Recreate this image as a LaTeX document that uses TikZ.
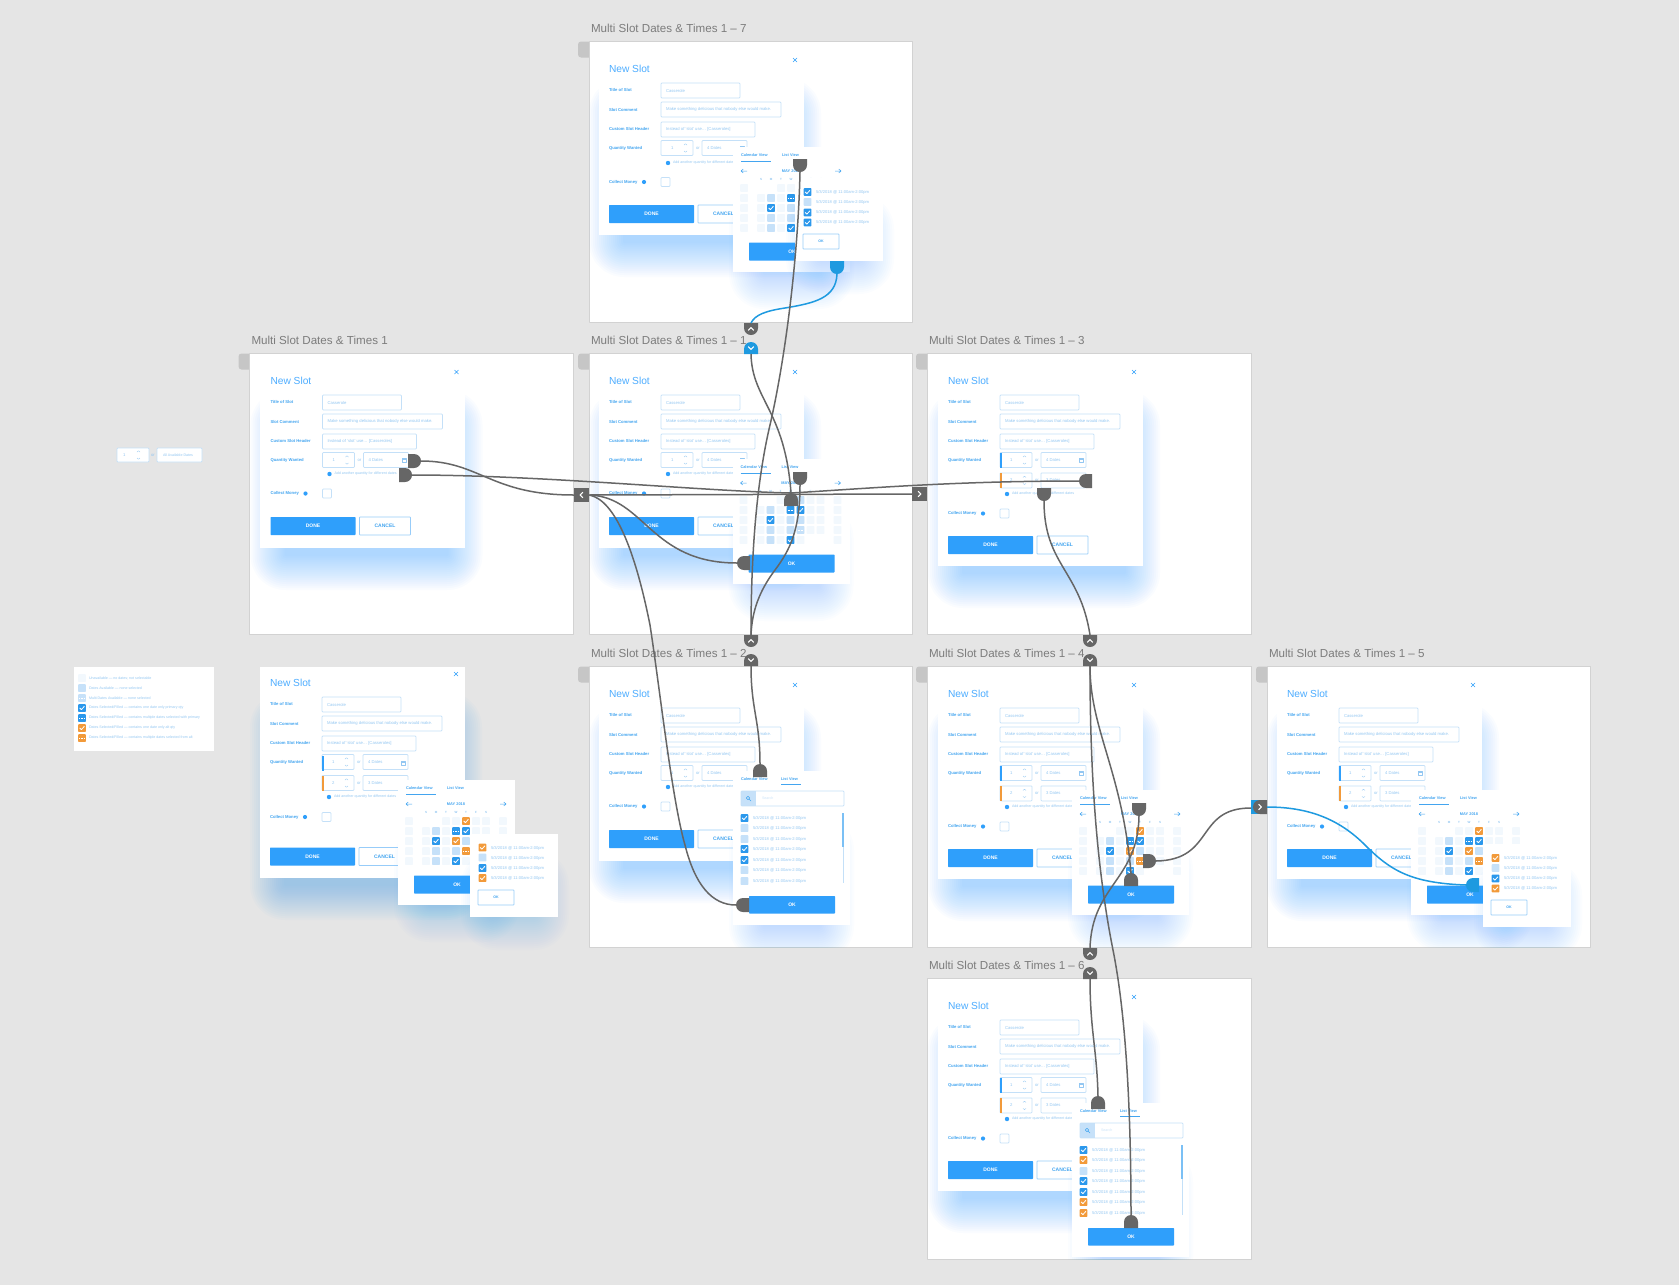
\documentclass[tikz,border=0pt]{standalone}
\usepackage{fontspec}
\setmainfont{Liberation Sans}
\usetikzlibrary{arrows.meta}
\definecolor{bgc}{HTML}{E5E5E5}
\definecolor{framec}{HTML}{D2D2D2}
\definecolor{tabc}{HTML}{C6C6C6}
\definecolor{shb}{HTML}{2E9FFF}
\definecolor{btn}{HTML}{2F9FFB}
\definecolor{cellL}{HTML}{C6E1F9}
\definecolor{cellF}{HTML}{F2F8FD}
\definecolor{chkb}{HTML}{2B98EC}
\definecolor{chko}{HTML}{F29A3A}
\definecolor{inbd}{HTML}{C4E0F8}
\definecolor{txtl}{HTML}{93C7F2}
\definecolor{txtm}{HTML}{43A5F0}
\definecolor{wire}{HTML}{666666}
\definecolor{wireb}{HTML}{1E9AE0}
\definecolor{labc}{HTML}{7C7C7C}
\newcount\nn
\newcommand\Lb[4]{\global\advance\nn by 1 \node[#1] (n\the\nn) at (#2,#3) {#4};}
\tikzset{
 base/.style={inner sep=0pt,outer sep=0pt},
 framelabel/.style={base,anchor=west,text=labc,font=\fontsize{11.6}{12}\selectfont},
 titletxt/.style={base,anchor=west,text=shb!85!white,font=\fontsize{10.2}{11}\selectfont},
 fieldlab/.style={base,anchor=west,text=txtm,font=\bfseries\fontsize{4.2}{5}\selectfont},
 fieldval/.style={base,anchor=west,text=txtl,font=\fontsize{4.2}{5}\selectfont},
 addtxt/.style={base,anchor=west,text=txtl,font=\fontsize{3.6}{4}\selectfont},
 btntxt/.style={base,text=white,font=\bfseries\fontsize{5}{6}\selectfont},
 cnltxt/.style={base,text=txtm,font=\bfseries\fontsize{5}{6}\selectfont},
 tabtxt/.style={base,anchor=west,text=txtm,font=\bfseries\fontsize{3.9}{5}\selectfont},
 montxt/.style={base,text=txtm,font=\bfseries\fontsize{3.9}{5}\selectfont},
 daytxt/.style={base,text=txtl,font=\bfseries\fontsize{3}{4}\selectfont},
 rowtxt/.style={base,anchor=west,text=txtl,font=\fontsize{4.1}{5}\selectfont},
 legtxt/.style={base,anchor=west,text=txtl,font=\fontsize{3.6}{4}\selectfont},
 inbox/.style={fill=white,draw=inbd,line width=.7pt,rounded corners=.8pt},
 btnfill/.style={fill=btn,rounded corners=.6pt},
 outl/.style={fill=white,draw=inbd!70!btn,line width=.8pt,rounded corners=.6pt},
 icon/.style={draw=txtl,line width=.4pt},
 conn/.style={draw=wire,line width=1.5pt},
 connb/.style={draw=wireb,line width=1.5pt},
}
% soft glow
\newcommand\Glow[5]{\foreach \rr in {0,2,...,34}{\fill[shb,opacity=#5,rounded corners=\rr pt + 1pt] (#1-\rr,#2-\rr) rectangle (#3+\rr,#4+\rr);}}
% cells
\newcommand\Sq[3]{\fill[#1,rounded corners=.8pt] (#2-3.9,#3-3.9) rectangle (#2+3.9,#3+3.9);}
\newcommand\CellL[2]{\Sq{cellL}{#1}{#2}}
\newcommand\CellF[2]{\Sq{cellF}{#1}{#2}}
\newcommand\Tick[2]{\draw[white,line width=.8pt] (#1-2.3,#2) -- (#1-.6,#2+1.6) -- (#1+2.4,#2-1.7);}
\newcommand\Dots[2]{\draw[white,line width=1pt,dash pattern=on .9pt off .5pt] (#1-2.6,#2) -- (#1+2.6,#2);}
\newcommand\CellB[2]{\Sq{chkb}{#1}{#2}\Tick{#1}{#2}}
\newcommand\CellO[2]{\Sq{chko}{#1}{#2}\Tick{#1}{#2}}
\newcommand\CellBD[2]{\Sq{chkb}{#1}{#2}\Dots{#1}{#2}}
\newcommand\CellOD[2]{\Sq{chko}{#1}{#2}\Dots{#1}{#2}}
\newcommand\CellLD[2]{\Sq{cellL}{#1}{#2}\Dots{#1}{#2}}
% frame
\newcommand\FrameTab[2]{\fill[tabc,rounded corners=3pt] (#1-11,#2) rectangle (#1+6,#2+16);}
\newcommand\FrameBox[4]{\fill[white] (#1,#2) rectangle (#1+#3,#2+281);\draw[framec,line width=.5pt] (#1,#2) rectangle (#1+#3,#2+281);\Lb{framelabel}{#1+2}{#2-13}{#4}}
% dialog {add y}{collect y}{done y}{bottom}
\newcommand\DlgCore[4]{
 \Glow{34}{70}{198}{#4+8}{.022}
 \fill[white] (9.5,11) rectangle (214.5,#4);
 \Lb{titletxt}{20}{26.5}{New Slot}
 \draw[btn,line width=.5pt] (204,16) -- (208,20) (208,16) -- (204,20);
 \Lb{fieldlab}{20}{48}{Title of Slot}
 \Lb{fieldlab}{20}{68}{Slot Comment}
 \Lb{fieldlab}{20}{87}{Custom Slot Header}
 \Lb{fieldlab}{20}{106}{Quantity Wanted}
 \draw[inbox] (72,41) rectangle (151,56);
 \Lb{fieldval}{77}{48.5}{Casserole}
 \draw[inbox] (72,60) rectangle (192,75);
 \Lb{fieldval}{77}{67.5}{Make something delicious that nobody else would make.}
 \draw[inbox] (72,80) rectangle (166,95);
 \Lb{fieldval}{77}{87.5}{Instead of ‘slot’ use… [Casseroles]}
 \QtyRow{106}{4 Dates}{1}
 \fill[btn] (79,#1) circle (2.2pt);
 \Lb{addtxt}{84}{#1}{Add another quantity for different dates}
 \Lb{fieldlab}{20}{#2}{Collect Money}
 \fill[btn] (55,#2) circle (2.1pt);
 \draw[inbox] (72,#2-4.5) rectangle (81,#2+4.5);
 \fill[btnfill] (20,#3) rectangle (105,#3+18);
 \Lb{btntxt}{62.5}{#3+9}{DONE}
 \draw[outl] (109,#3) rectangle (160,#3+18);
 \Lb{cnltxt}{134.5}{#3+9}{CANCEL}
}
\newcommand\QtyRow[3]{
 \draw[inbox] (72,#1-7.5) rectangle (104,#1+7.5);
 \Lb{fieldval}{82}{#1}{#3}
 \draw[txtl,line width=.35pt] (95,#1-3) -- (96.5,#1-4.2) -- (98,#1-3) (95,#1+3) -- (96.5,#1+4.2) -- (98,#1+3);
 \Lb{fieldval}{107}{#1}{or}
 \draw[inbox] (113,#1-7.5) rectangle (158,#1+7.5);
 \Lb{fieldval}{118}{#1}{#2}
}
\newcommand\CalIcon[1]{\draw[icon] (151.5,#1-2) rectangle (155.5,#1+2.2);\draw[icon] (151.5,#1-.8) -- (155.5,#1-.8);}
\newcommand\RowBar[2]{\fill[#1] (72,#2-7.5) rectangle (73.6,#2+7.5);}
\newcommand\PanArrows{
 \draw[txtm,line width=.5pt] (8,26) -- (14,26) (10.2,24) -- (8,26) -- (10.2,28);
 \draw[txtm,line width=.5pt] (102,26) -- (108,26) (105.8,24) -- (108,26) -- (105.8,28);
}
% calendar panel
\newcommand\CalPanel[3]{
 \begin{scope}[shift={(#1,#2)}]
 \Glow{30}{80}{87}{130}{.016}
 \fill[white] (0,2) rectangle (117,127);
 \Lb{tabtxt}{8}{10}{Calendar View}
 \Lb{tabtxt}{49}{10}{List View}
 \draw[txtm,line width=.8pt] (8,16) -- (38,16);
 \PanArrows
 \Lb{montxt}{58}{26}{MAY 2018}
 \foreach \xx/\dd in {28/S,38/M,48/T,58/W,68/T,78/F,88/S}{\Lb{daytxt}{\xx}{34}{\dd}}
 \foreach \xx in {11,48,58,78,88,105}{\CellF{\xx}{43}}
 \foreach \yy in {53,63,73}{\foreach \xx in {11,28,38,48,58,68,78,88,105}{\CellF{\xx}{\yy}}}
 \foreach \xx in {11,28,38,48,58,68,105}{\CellF{\xx}{83}}
 #3
 \fill[btnfill] (16,97.5) rectangle (102,115.5);
 \Lb{btntxt}{59}{106.5}{OK}
 \end{scope}}
\newcommand\CellsBlue{\CellL{68}{43}\CellL{38}{53}\CellBD{58}{53}\CellB{68}{53}\CellB{38}{63}\CellL{58}{63}\CellL{68}{63}\CellL{38}{73}\CellL{58}{73}\CellLD{68}{73}\CellL{38}{83}\CellB{58}{83}}
\newcommand\CellsMix{\CellO{68}{43}\CellL{38}{53}\CellBD{58}{53}\CellB{68}{53}\CellB{38}{63}\CellO{58}{63}\CellL{68}{63}\CellL{38}{73}\CellL{58}{73}\CellOD{68}{73}\CellL{38}{83}\CellB{58}{83}}
% small list
\newcommand\SmallList[3]{
 \begin{scope}[shift={(#1,#2)}]
 \Glow{25}{50}{65}{82}{.016}
 \fill[white] (0,0) rectangle (88,83);
 #3
 \foreach \yy in {14,24,34.5,44.5}{\Lb{rowtxt}{21}{\yy}{5/3/2018 @ 11:00am-2:00pm}}
 \draw[outl] (8,56) rectangle (44,71);
 \Lb{cnltxt}{26}{63.5}{\fontsize{3.6}{4}\selectfont OK}
 \end{scope}}
% list view
\newcommand\ListView[3]{
 \begin{scope}[shift={(#1,#2)}]
 \Glow{30}{80}{87}{158}{.016}
 \fill[white] (0,2) rectangle (117,156);
 \Lb{tabtxt}{8}{10}{Calendar View}
 \Lb{tabtxt}{48}{10}{List View}
 \draw[txtm,line width=.8pt] (48,15.5) -- (68,15.5);
 \fill[cellL] (8,22) rectangle (23,37);
 \draw[inbox,fill=none] (8,22) rectangle (111,37);
 \draw[txtm,line width=.5pt] (15,29) circle (1.7pt) (16.3,30.3) -- (18,32);
 \Lb{addtxt}{29}{29.5}{\textcolor{cellF!60!txtl}{Search}}
 #3
 \foreach \yy in {49,59,70,80,91,101,112}{\Lb{rowtxt}{20}{\yy}{5/3/2018 @ 11:00am-2:00pm}}
 \fill[inbd] (109.6,44) rectangle (110.6,114);
 \fill[txtm!70!white] (109.2,44) rectangle (111,78);
 \fill[btnfill] (16,127) rectangle (102,144.5);
 \Lb{btntxt}{59}{136}{OK}
 \end{scope}}
% tabs and badges
\newcommand\TabMk[6]{
 \begin{scope}[shift={(#2,#3)},rotate=#4]
 \fill[#5] (-7,0) -- (7,0) -- (7,#6-7) .. controls (7,#6-3.1) and (3.9,#6) .. (0,#6) .. controls (-3.9,#6) and (-7,#6-3.1) .. (-7,#6-7) -- cycle;
 \coordinate (#1) at (0,#6);
 \end{scope}}
\newcommand\Chev[3]{\begin{scope}[shift={(#1,#2)},rotate=#3]\draw[white,line width=1.1pt] (-1.4,-2.8) -- (1.4,0) -- (-1.4,2.8);\end{scope}}
\newcommand\Badge[5]{% name x y rot colour : flat edge at x,y
 \TabMk{#1tip}{#2}{#3}{#4}{#5}{12}
 \coordinate (#1) at (#2,#3);}
\begin{document}
\begin{tikzpicture}[x=1pt,y=-1pt,line join=round]
\useasboundingbox (0,0) rectangle (1679,1285);
\fill[bgc] (0,0) rectangle (1679,1285);
% frame tabs
\FrameTab{589}{41.5}\FrameTab{249.5}{353.5}\FrameTab{589}{353.5}\FrameTab{927}{353.5}\FrameTab{589}{666.5}\FrameTab{927}{666.5}\FrameTab{1267}{666.5}
\FrameBox{589}{41.5}{323}{Multi Slot Dates \& Times 1 – 7}
\FrameBox{249.5}{353.5}{323.5}{Multi Slot Dates \& Times 1}
\FrameBox{589}{353.5}{323}{Multi Slot Dates \& Times 1 – 1}
\FrameBox{927}{353.5}{324}{Multi Slot Dates \& Times 1 – 3}
\FrameBox{589}{666.5}{323}{Multi Slot Dates \& Times 1 – 2}
\FrameBox{927}{666.5}{324}{Multi Slot Dates \& Times 1 – 4}
\FrameBox{1267}{666.5}{323}{Multi Slot Dates \& Times 1 – 5}
\FrameBox{927}{978.5}{324}{Multi Slot Dates \& Times 1 – 6}
% top-left quantity widget
\draw[inbox] (117,448) rectangle (149,462);
\Lb{fieldval}{123}{455}{1}
\draw[txtl,line width=.35pt] (137,452) -- (138.5,450.8) -- (140,452) (137,458) -- (138.5,459.2) -- (140,458);
\Lb{fieldval}{151}{455}{or}
\draw[inbox] (157,448) rectangle (202,462);
\Lb{addtxt}{163}{455}{All Available Dates}
% legend
\fill[white] (74,667) rectangle (214,751);
\CellF{82}{678}\CellL{82}{688}\CellLD{82}{698}\CellB{82}{708}\CellBD{82}{718}\CellO{82}{728}\CellOD{82}{738}
\Lb{legtxt}{89}{678}{Unavailable — no dates; not selectable}
\Lb{legtxt}{89}{688}{Dates Available — none selected}
\Lb{legtxt}{89}{698}{Multi Dates Available — none selected}
\Lb{legtxt}{89}{708}{Dates Selected/Filled — contains one date only primary qty}
\Lb{legtxt}{89}{718}{Dates Selected/Filled — contains multiple dates selected with primary}
\Lb{legtxt}{89}{728}{Dates Selected/Filled — contains one date only alt qty}
\Lb{legtxt}{89}{738}{Dates Selected/Filled — contains multiple dates selected from alt}
% frame 1-7
\begin{scope}
\clip (589,41.5) rectangle (912,322.5);
\begin{scope}[shift={(589,42)}]\DlgCore{121}{140}{163}{193}\CalIcon{106}\end{scope}
\CalPanel{733}{145}{\CellsBlue}
\SmallList{795}{178}{\CellB{12.5}{14}\CellL{12.5}{24}\CellB{12.5}{34.5}\CellB{12.5}{44.5}}
\end{scope}
% frame 1
\begin{scope}
\clip (249.5,353.5) rectangle (573,634.5);
\begin{scope}[shift={(250.5,354)}]\DlgCore{120}{139.5}{163}{194}\CalIcon{106}\end{scope}
\end{scope}
% frame 1-1
\begin{scope}
\clip (589,353.5) rectangle (912,634.5);
\begin{scope}[shift={(589,354)}]\DlgCore{120}{139.5}{163}{194}\CalIcon{106}\end{scope}
\CalPanel{732.5}{457}{\CellsBlue}
\end{scope}
% frame 1-3
\begin{scope}
\clip (927,353.5) rectangle (1251,634.5);
\begin{scope}[shift={(928,354)}]\DlgCore{140}{159.5}{182}{212}\CalIcon{106}\RowBar{btn}{106}\QtyRow{126.4}{3 Dates}{2}\RowBar{chko}{126.4}\end{scope}
\end{scope}
% frame 1-2
\begin{scope}
\clip (589,666.5) rectangle (912,947.5);
\begin{scope}[shift={(589,667)}]\DlgCore{120}{139.5}{163}{194}\CalIcon{106}\end{scope}
\ListView{733}{769}{\CellB{11.5}{49}\CellL{11.5}{59}\CellL{11.5}{70}\CellB{11.5}{80}\CellB{11.5}{91}\CellL{11.5}{101}\CellL{11.5}{112}}
\end{scope}
% frame 1-4
\begin{scope}
\clip (927,666.5) rectangle (1251,947.5);
\begin{scope}[shift={(928,667)}]\DlgCore{140}{159.5}{182}{212}\CalIcon{106}\RowBar{btn}{106}\QtyRow{126.4}{3 Dates}{2}\RowBar{chko}{126.4}\end{scope}
\CalPanel{1072}{788}{\CellsMix}
\end{scope}
% frame 1-5
\begin{scope}
\clip (1267,666.5) rectangle (1590,947.5);
\begin{scope}[shift={(1267,667)}]\DlgCore{140}{159.5}{182}{212}\CalIcon{106}\RowBar{btn}{106}\QtyRow{126.4}{3 Dates}{2}\RowBar{chko}{126.4}\end{scope}
\CalPanel{1411}{788}{\CellsMix}
\SmallList{1483}{844}{\CellO{12.5}{14}\CellL{12.5}{24}\CellB{12.5}{34.5}\CellO{12.5}{44.5}}
\end{scope}
% frame 1-6
\begin{scope}
\clip (927,978.5) rectangle (1251,1259.5);
\begin{scope}[shift={(928,979)}]\DlgCore{140}{159.5}{182}{212}\CalIcon{106}\RowBar{btn}{106}\QtyRow{126.4}{3 Dates}{2}\RowBar{chko}{126.4}\end{scope}
\ListView{1072}{1101}{\CellB{11.5}{49}\CellO{11.5}{59}\CellL{11.5}{70}\CellB{11.5}{80}\CellB{11.5}{91}\CellO{11.5}{101}\CellO{11.5}{112}}
\end{scope}
% loose composition
\begin{scope}[shift={(250,656)}]\DlgCore{141}{161}{191.5}{222}\CalIcon{107}\RowBar{btn}{107}\QtyRow{127}{3 Dates}{2}\RowBar{chko}{127}\end{scope}
\CalPanel{398}{778}{\CellsMix}
\SmallList{470}{834}{\CellO{12.5}{13.5}\CellL{12.5}{23.5}\CellB{12.5}{34}\CellO{12.5}{44}}
% tabs
\TabMk{tsa}{800}{159}{0}{wire}{13}
\TabMk{tsb}{837}{261}{0}{wireb}{13}
\TabMk{fa}{408}{461}{90}{wire}{13}
\TabMk{fb}{399}{475}{90}{wire}{13}
\TabMk{ebu}{791}{506}{180}{wire}{13}
\TabMk{ebd}{800}{472}{0}{wire}{13}
\TabMk{ebl}{750}{563}{-90}{wire}{13}
\TabMk{grr}{1092}{481}{-90}{wire}{13}
\TabMk{grd}{1044}{488}{0}{wire}{13}
\TabMk{dbu}{760}{777}{180}{wire}{13}
\TabMk{dbl}{749}{905}{-90}{wire}{13}
\TabMk{hbd}{1139}{803}{0}{wire}{13}
\TabMk{hbr}{1143}{861}{90}{wire}{13}
\TabMk{hbu}{1131}{886}{180}{wire}{13}
\TabMk{jbl}{1479}{885}{-90}{wireb}{13}
\TabMk{kba}{1098}{1109}{180}{wire}{13}
\TabMk{kbb}{1131}{1228}{180}{wire}{13}
% badges
\Badge{upa}{751}{323}{0}{wire}\Chev{751}{329}{90}
\Badge{dna}{751}{354}{180}{wireb}\Chev{751}{348}{-90}
\Badge{upb}{751}{635}{0}{wire}\Chev{751}{641}{90}
\Badge{dnb}{751}{666}{180}{wire}\Chev{751}{660}{-90}
\Badge{upc}{1090}{635}{0}{wire}\Chev{1090}{641}{90}
\Badge{dnc}{1090}{666}{180}{wire}\Chev{1090}{660}{-90}
\Badge{upd}{1090}{948}{0}{wire}\Chev{1090}{954}{90}
\Badge{dnd}{1090}{979}{180}{wire}\Chev{1090}{973}{-90}
\node[base,fill=wire,minimum width=15.5pt,minimum height=14pt] (lbox) at (581.5,495) {};
\Chev{581.5}{495}{180}
\node[base,fill=wire,minimum width=15pt,minimum height=14pt] (rbox) at (919.5,494) {};
\Chev{919.5}{494}{0}
\fill[wireb] (1251,800) rectangle (1260,814);
\TabMk{rgt}{1267}{807}{-90}{wire}{14}
\coordinate (rgtin) at (1251,808);
\coordinate (rgtout) at (1267,807);
\Chev{1260}{807}{0}
% connectors
\draw[connb] (tsb) .. controls (836,298) and (815,303) .. (785,308) .. controls (765,311) and (755,315) .. (upa);
\draw[conn] (fa) .. controls (480,461) and (490,495) .. (lbox.west);
\draw[conn] (fb) .. controls (540,475) and (700,491) .. (ebu);
\draw[conn] (grr) .. controls (950,481) and (860,489) .. (ebu);
\draw[conn] (lbox.east) -- (rbox.west);
\draw[conn] (lbox.east) .. controls (645,497) and (650,563) .. (ebl);
\draw[conn] (lbox.east) .. controls (615,500) and (635,550) .. (650,625) .. controls (660,690) and (672,800) .. (685,845) .. controls (695,885) and (712,905) .. (dbl);
\draw[conn] (dna) .. controls (752,400) and (785,410) .. (ebu);
\draw[conn] (ebd) .. controls (800,530) and (790,550) .. (775,570) .. controls (760,590) and (752,610) .. (upb);
\draw[conn] (tsa) .. controls (798,260) and (785,360) .. (770,425) .. controls (757,480) and (751,550) .. (upb);
\draw[conn] (dnb) .. controls (751,710) and (760,720) .. (dbu);
\draw[conn] (grd) .. controls (1044,565) and (1080,570) .. (upc);
\draw[conn] (dnc) .. controls (1090,730) and (1122,770) .. (hbu);
\draw[conn] (dnc) .. controls (1090,760) and (1095,860) .. (1113,950) .. controls (1125,1010) and (1131,1100) .. (kbb);
\draw[conn] (hbd) .. controls (1138,880) and (1092,885) .. (upd);
\draw[conn] (dnd) .. controls (1090,1030) and (1097,1050) .. (kba);
\draw[conn] (hbr) .. controls (1215,860) and (1195,808) .. (rgtin);
\draw[connb] (rgtout) .. controls (1310,807) and (1340,820) .. (1365,845) .. controls (1390,870) and (1410,883) .. (jbl);
\end{tikzpicture}
\end{document}
